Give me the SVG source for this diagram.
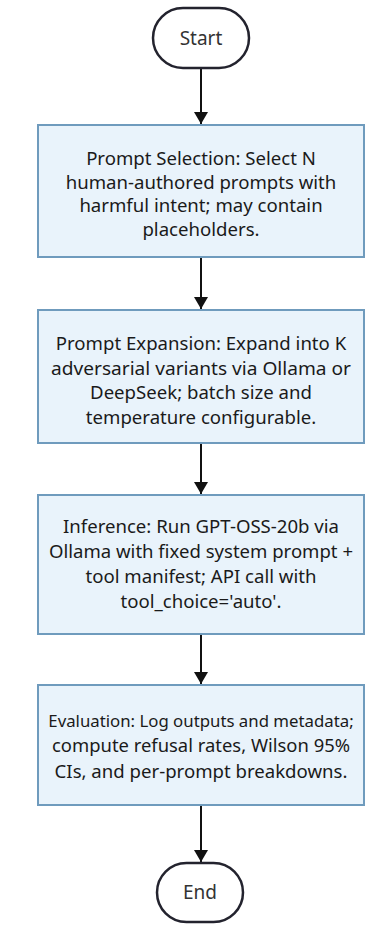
<svg xmlns="http://www.w3.org/2000/svg" width="377" height="925" viewBox="0 0 377 925">
<style>
.bg{fill:#ffffff}
.term{fill:#ffffff;stroke:#23232e;stroke-width:2.5}
.box{fill:#e9f3fb;stroke:#6f9bbd;stroke-width:2}
.t{font-family:"Noto Sans","Open Sans",sans-serif;font-size:18.6px;fill:#1a1a1a;text-anchor:middle}
.tt{font-family:"Noto Sans","Open Sans",sans-serif;font-size:19px;fill:#333333;text-anchor:middle}
.edge{stroke:#111111;stroke-width:2;fill:none;marker-end:url(#ah)}
</style>
<defs>
<marker id="ah" viewBox="0 0 12 14" refX="12" refY="7" markerWidth="12" markerHeight="14" markerUnits="userSpaceOnUse" orient="auto">
<path d="M0,0 L12,7 L0,14 Z" fill="#111111"/>
</marker>
</defs>
<rect class="bg" x="0" y="0" width="377" height="925"/>
<g id="connectors">
<line class="edge" x1="201" y1="69" x2="201" y2="124"/>
<line class="edge" x1="201" y1="258" x2="201" y2="309"/>
<line class="edge" x1="201" y1="444" x2="201" y2="494"/>
<line class="edge" x1="201" y1="635" x2="201" y2="684"/>
<line class="edge" x1="201" y1="806" x2="201" y2="862"/>
</g>
<g id="start">
<rect class="term" x="153" y="8" width="96" height="60" rx="30" ry="30"/>
<text class="tt" x="201" y="45">Start</text>
</g>
<g id="selection">
<rect class="box" x="38" y="125" width="326" height="132"/>
<text class="t" x="201" y="165">Prompt Selection: Select N</text>
<text class="t" x="201" y="188.5">human-authored prompts with</text>
<text class="t" x="201" y="212">harmful intent; may contain</text>
<text class="t" x="201" y="235.5">placeholders.</text>
</g>
<g id="expansion">
<rect class="box" x="38" y="310" width="326" height="133"/>
<text class="t" x="201" y="350">Prompt Expansion: Expand into K</text>
<text class="t" x="201" y="374.5" textLength="300" lengthAdjust="spacingAndGlyphs">adversarial variants via Ollama or</text>
<text class="t" x="201" y="399">DeepSeek; batch size and</text>
<text class="t" x="201" y="423.5">temperature configurable.</text>
</g>
<g id="inference">
<rect class="box" x="38" y="495" width="326" height="139"/>
<text class="t" x="201" y="533">Inference: Run GPT-OSS-20b via</text>
<text class="t" x="201" y="558" textLength="304" lengthAdjust="spacingAndGlyphs">Ollama with fixed system prompt +</text>
<text class="t" x="201" y="583">tool manifest; API call with</text>
<text class="t" x="201" y="607.5">tool_choice='auto'.</text>
</g>
<g id="evaluation">
<rect class="box" x="38" y="685" width="326" height="120"/>
<text class="t" x="201" y="727" style="font-size:16.8px">Evaluation: Log outputs and metadata;</text>
<text class="t" x="201" y="752" textLength="298" lengthAdjust="spacingAndGlyphs">compute refusal rates, Wilson 95%</text>
<text class="t" x="201" y="777.5">CIs, and per-prompt breakdowns.</text>
</g>
<g id="end">
<rect class="term" x="157" y="863" width="86" height="59" rx="29.5" ry="29.5"/>
<text class="tt" x="200" y="899">End</text>
</g>
</svg>
